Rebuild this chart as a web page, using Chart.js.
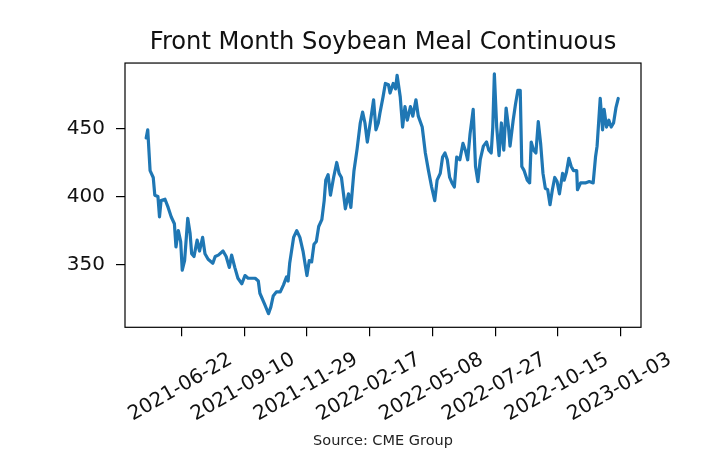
<!DOCTYPE html>
<html>
<head>
<meta charset="utf-8">
<script src="https://cdn.jsdelivr.net/npm/chart.js@4.4.1/dist/chart.umd.min.js"></script>
<style>
html, body { margin: 0; padding: 0; background: #fff; }
canvas { display: block; }
</style>
</head>
<body>
<canvas id="myChart" width="701" height="464"></canvas>
<script>
// ---------------- data
const dates = [
  '2021-05-08','2021-05-10','2021-05-13','2021-05-17','2021-05-19','2021-05-23','2021-05-25','2021-05-27',
  '2021-06-01','2021-06-05','2021-06-09','2021-06-13','2021-06-15','2021-06-18','2021-06-21','2021-06-23',
  '2021-06-26','2021-06-30','2021-07-03','2021-07-05','2021-07-08','2021-07-12','2021-07-15','2021-07-19',
  '2021-07-22','2021-07-26','2021-08-01','2021-08-04','2021-08-08','2021-08-14','2021-08-18','2021-08-22',
  '2021-08-25','2021-08-29','2021-09-02','2021-09-07','2021-09-11','2021-09-15','2021-09-24','2021-09-28',
  '2021-09-30','2021-10-06','2021-10-11','2021-10-14','2021-10-17','2021-10-21','2021-10-26','2021-10-30',
  '2021-11-03','2021-11-05','2021-11-07','2021-11-12','2021-11-16','2021-11-20','2021-11-24','2021-11-29',
  '2021-12-02','2021-12-05','2021-12-08','2021-12-11','2021-12-14','2021-12-18','2021-12-21','2021-12-23',
  '2021-12-26','2021-12-29','2022-01-02','2022-01-06','2022-01-09','2022-01-12','2022-01-17','2022-01-21',
  '2022-01-24','2022-01-28','2022-02-01','2022-02-05','2022-02-08','2022-02-11','2022-02-14','2022-02-18',
  '2022-02-22','2022-02-25','2022-02-28','2022-03-02','2022-03-06','2022-03-09','2022-03-13','2022-03-15',
  '2022-03-19','2022-03-22','2022-03-24','2022-03-28','2022-03-31','2022-04-03','2022-04-06','2022-04-10',
  '2022-04-13','2022-04-17','2022-04-20','2022-04-25','2022-04-29','2022-05-03','2022-05-07','2022-05-11',
  '2022-05-14','2022-05-18','2022-05-21','2022-05-24','2022-05-27','2022-05-30','2022-06-02','2022-06-05',
  '2022-06-08','2022-06-12','2022-06-16','2022-06-19','2022-06-22','2022-06-25','2022-06-29','2022-07-02',
  '2022-07-05','2022-07-08','2022-07-12','2022-07-16','2022-07-19','2022-07-22','2022-07-24','2022-07-26',
  '2022-07-29','2022-08-01','2022-08-04','2022-08-07','2022-08-10','2022-08-13','2022-08-15','2022-08-19',
  '2022-08-22','2022-08-25','2022-08-28','2022-08-30','2022-09-02','2022-09-06','2022-09-09','2022-09-11',
  '2022-09-14','2022-09-17','2022-09-20','2022-09-23','2022-09-26','2022-09-29','2022-10-02','2022-10-05',
  '2022-10-08','2022-10-11','2022-10-14','2022-10-17','2022-10-21','2022-10-23','2022-10-26','2022-10-29',
  '2022-11-01','2022-11-04','2022-11-08','2022-11-09','2022-11-13','2022-11-19','2022-11-24','2022-11-29',
  '2022-12-02','2022-12-04','2022-12-08','2022-12-11','2022-12-13','2022-12-16','2022-12-19','2022-12-22',
  '2022-12-25','2022-12-28','2022-12-31'
];
const prices = [
  443, 449, 419, 414, 401, 400, 385, 397,
  398, 392, 385, 380, 363, 375, 367, 346,
  353, 384, 373, 358, 356, 368, 360, 370,
  358, 354, 351, 356, 357, 360, 356, 348,
  357, 348, 340, 336, 342, 340, 340, 338,
  329, 321, 314, 319, 327, 330, 330, 335,
  341, 338, 351, 370, 375, 370, 360, 342,
  353, 352, 365, 367, 378, 383, 397, 412,
  416, 401, 414, 425, 417, 414, 391, 402,
  392, 419, 435, 454, 462, 454, 440, 455,
  471, 449, 454, 461, 473, 483, 482, 476,
  483, 479, 489, 473, 451, 466, 456, 466,
  459, 471, 459, 451, 432, 419, 407, 397,
  412, 417, 429, 432, 427, 414, 410, 407,
  429, 427, 439, 434, 427, 446, 464, 422,
  411, 427, 437, 440, 434, 432, 451, 490,
  451, 430, 454, 434, 465, 451, 437, 456,
  468, 478, 478, 422, 419, 412, 410, 440,
  434, 432, 455, 439, 417, 406, 405, 394,
  405, 414, 411, 402, 417, 412, 418, 428,
  422, 419, 419, 405, 410, 410, 411, 410,
  429, 437, 472, 449, 464, 451, 456, 451,
  454, 465, 472
];
const tickLabels = ['2021-06-22','2021-09-10','2021-11-29','2022-02-17','2022-05-08','2022-07-27','2022-10-15','2023-01-03'];
const yTicks = [350, 400, 450];
const xBounds = ['2021-04-11', '2023-01-29'];
const yBounds = [304, 498];

const toDay = s => Date.parse(s) / 86400000;
const points = dates.map((d, i) => ({ x: toDay(d), y: prices[i] }));

const FONT = '"DejaVu Sans", "Liberation Sans", sans-serif';

// frame on all four sides + rotated date labels centred on their ticks
const frameAndLabels = {
  id: 'frameAndLabels',
  afterDraw(chart) {
    const { ctx, chartArea: a, scales: { x } } = chart;
    ctx.save();
    ctx.strokeStyle = '#000';
    ctx.lineWidth = 1.2;
    ctx.strokeRect(a.left, a.top, a.right - a.left, a.bottom - a.top);
    ctx.font = '20px ' + FONT;
    ctx.fillStyle = '#111';
    ctx.textAlign = 'center';
    ctx.textBaseline = 'middle';
    tickLabels.forEach(t => {
      const px = x.getPixelForValue(toDay(t));
      ctx.save();
      ctx.translate(px - 1, a.bottom + 60);
      ctx.rotate(-Math.PI / 6);
      ctx.fillText(t, 0, 0);
      ctx.restore();
    });
    ctx.restore();
  }
};

const config = {
  type: 'line',
  data: {
    datasets: [{
      label: 'Front Month Soybean Meal',
      data: points,
      borderColor: '#1f77b4',
      backgroundColor: '#1f77b4',
      borderWidth: 3.2,
      pointRadius: 0,
      tension: 0,
      borderJoinStyle: 'round',
      borderCapStyle: 'round',
      fill: false
    }]
  },
  options: {
    responsive: false,
    animation: false,
    layout: { padding: { left: 0, right: 60, top: 0, bottom: 0 } },
    plugins: {
      legend: { display: false },
      tooltip: { enabled: false },
      title: {
        display: true,
        text: 'Front Month Soybean Meal Continuous',
        fullSize: false,
        color: '#111',
        font: { family: FONT, size: 24.2, weight: 'normal' },
        padding: { top: 28, bottom: 6 }
      },
      subtitle: {
        display: true,
        position: 'bottom',
        text: 'Source: CME Group',
        fullSize: false,
        color: '#222',
        font: { family: FONT, size: 14.5, weight: 'normal' },
        padding: { top: 0, bottom: 14 }
      }
    },
    scales: {
      x: {
        type: 'linear',
        min: toDay(xBounds[0]),
        max: toDay(xBounds[1]),
        afterBuildTicks: s => { s.ticks = tickLabels.map(t => ({ value: toDay(t) })); },
        afterFit: s => { s.height = 105.3; },
        ticks: { display: false },
        grid: { drawOnChartArea: false, drawTicks: true, tickLength: 9, color: '#000', lineWidth: 1.2 },
        border: { display: false }
      },
      y: {
        type: 'linear',
        min: yBounds[0],
        max: yBounds[1],
        afterBuildTicks: s => { s.ticks = yTicks.map(v => ({ value: v })); },
        afterFit: s => { s.width = 125; },
        ticks: { color: '#111', padding: 11, font: { family: FONT, size: 20 } },
        grid: { drawOnChartArea: false, drawTicks: true, tickLength: 9, color: '#000', lineWidth: 1.2 },
        border: { display: false }
      }
    }
  },
  plugins: [frameAndLabels]
};

const myChart = new Chart(document.getElementById('myChart'), config);
</script>
</body>
</html>
